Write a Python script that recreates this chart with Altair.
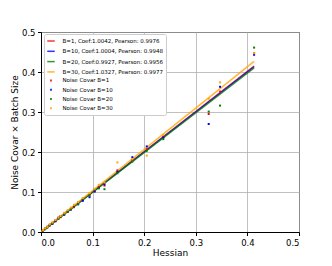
import altair as alt
import pandas as pd

hessian = [0.004, 0.008, 0.012, 0.017, 0.022, 0.028, 0.034, 0.038, 0.045, 0.052,
           0.058, 0.064, 0.072, 0.081, 0.094, 0.104, 0.112, 0.123, 0.148, 0.177,
           0.205, 0.237, 0.325, 0.347, 0.413]
noise_b1 = [0.004, 0.009, 0.012, 0.016, 0.023, 0.027, 0.035, 0.037, 0.046, 0.050,
            0.059, 0.062, 0.074, 0.080, 0.092, 0.103, 0.113, 0.116, 0.154, 0.180,
            0.207, 0.238, 0.295, 0.351, 0.447]
noise_b10 = [0.005, 0.007, 0.013, 0.018, 0.020, 0.027, 0.036, 0.040, 0.043, 0.053,
             0.056, 0.065, 0.069, 0.078, 0.087, 0.101, 0.110, 0.119, 0.150, 0.187,
             0.214, 0.236, 0.270, 0.363, 0.443]
noise_b20 = [0.004, 0.008, 0.011, 0.017, 0.021, 0.029, 0.033, 0.039, 0.044, 0.051,
             0.057, 0.066, 0.070, 0.083, 0.091, 0.106, 0.109, 0.107, 0.147, 0.176,
             0.203, 0.232, 0.301, 0.316, 0.461]
noise_b30 = [0.005, 0.009, 0.013, 0.019, 0.024, 0.030, 0.036, 0.040, 0.048, 0.055,
             0.061, 0.068, 0.075, 0.085, 0.097, 0.108, 0.118, 0.124, 0.174, 0.182,
             0.191, 0.243, 0.333, 0.374, 0.447]

batch_sizes = [1, 10, 20, 30]
coefs = [1.0042, 1.0004, 0.9927, 1.0327]
pearsons = ["0.9976", "0.9948", "0.9956", "0.9977"]
colors = ["#ff0000", "#0000ff", "#008000", "#ffa500"]
fit_x = [0.0, 0.413]

line_labels = [f"B={b}, Coef:{c:.4f}, Pearson: {p}" for b, c, p in zip(batch_sizes, coefs, pearsons)]
point_labels = [f"Noise Covar B={b}" for b in batch_sizes]
domain = line_labels + point_labels

line_rows = []
for lab, c in zip(line_labels, coefs):
    for x in fit_x:
        line_rows.append({"label": lab, "x": x, "y": c * x})
lines_df = pd.DataFrame(line_rows)

pt_rows = []
for lab, ys in zip(point_labels, [noise_b1, noise_b10, noise_b20, noise_b30]):
    for x, y in zip(hessian, ys):
        pt_rows.append({"label": lab, "x": x, "y": y})
pts_df = pd.DataFrame(pt_rows)

color_scale = alt.Scale(domain=domain, range=colors + colors)
shape_scale = alt.Scale(domain=domain, range=["stroke"] * 4 + ["square"] * 4)
size_scale = alt.Scale(type="ordinal", domain=domain, range=[56] * 4 + [4] * 4)
sw_scale = alt.Scale(type="ordinal", domain=domain, range=[1.5] * 4 + [0] * 4)

legend = alt.Legend(
    title=None, orient="none", legendX=3, legendY=2,
    labelFontSize=5.5, labelFont="DejaVu Sans", labelColor="#000",
    rowPadding=2.3,
    labelOffset=7, padding=2.5, strokeColor="#cccccc", fillColor="white",
    cornerRadius=2,
)

xs = alt.X("x:Q", scale=alt.Scale(domain=[0, 0.5], nice=False),
           axis=alt.Axis(title="Hessian", values=[0, 0.1, 0.2, 0.3, 0.4, 0.5], format=".1f"))
ys_ = alt.Y("y:Q", scale=alt.Scale(domain=[0, 0.5], nice=False),
            axis=alt.Axis(title="Noise Covar × Batch Size", values=[0, 0.1, 0.2, 0.3, 0.4, 0.5], format=".1f"))

lines = alt.Chart(lines_df).mark_line(strokeWidth=1.5, opacity=0.8, clip=True).encode(
    x=xs, y=ys_,
    color=alt.Color("label:N", scale=color_scale, legend=legend),
)

points = alt.Chart(pts_df).mark_point(filled=True, opacity=1).encode(
    x=xs, y=ys_,
    color=alt.Color("label:N", scale=color_scale, legend=legend),
    shape=alt.Shape("label:N", scale=shape_scale, legend=legend),
    size=alt.Size("label:N", scale=size_scale, legend=legend),
    strokeWidth=alt.StrokeWidth("label:N", scale=sw_scale, legend=legend),
)

chart = alt.layer(lines, points).properties(
    width=258, height=200,
    autosize=alt.AutoSizeParams(type="none"),
    padding={"left": 33, "top": 24, "right": 20, "bottom": 26},
).configure(font="DejaVu Sans").configure_view(
    stroke="#000", strokeWidth=1
).configure_axis(
    labelFontSize=8.5, titleFontSize=9, labelColor="#000", titleColor="#000",
    titleFontWeight="normal", domainColor="#000", tickColor="#000", tickSize=3.5,
    gridColor="#b0b0b0", gridWidth=0.8, labelPadding=2.5, titlePadding=2,
)

chart.save("out.html", embed_options={"renderer": "svg", "actions": False})
